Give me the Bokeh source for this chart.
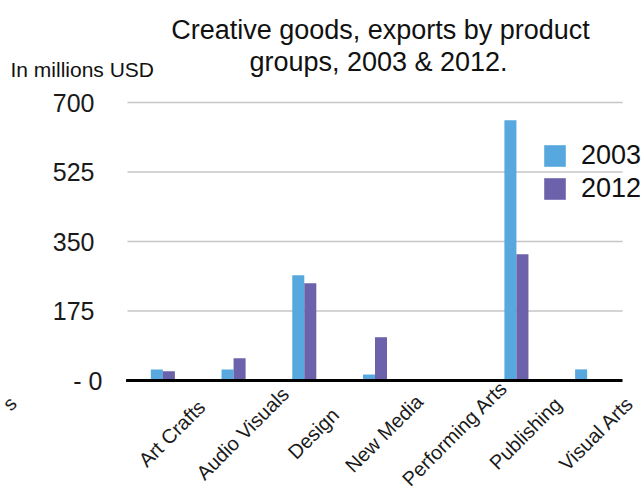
import math
from bokeh.plotting import figure
from bokeh.models import ColumnDataSource, Range1d, Label
from bokeh.core.properties import value
from bokeh.transform import dodge
from bokeh.embed import file_html
from bokeh.resources import INLINE

categories = ["Art Crafts", "Audio Visuals", "Design", "New Media",
              "Performing Arts", "Publishing", "Visual Arts"]
exports_2003 = [28, 28, 265, 15, 0, 655, 28]
exports_2012 = [23, 56, 245, 109, 0, 318, 0]
y_ticks = [0, 175, 350, 525, 700]
y_tick_labels = ["- 0", "175", "350", "525", "700"]
title_lines = ["Creative goods, exports by product", "groups, 2003 & 2012."]
unit_label = "In millions USD"

FONT = "Liberation Sans"
C2003 = "#56a8de"
C2012 = "#6b62ab"
TXT = "#1a1a1a"

W, H = 643, 504
PLOT_LEFT, PLOT_RIGHT = 127, 622      # pixel extent of the category area
PLOT_TOP, PLOT_BASE = 102, 380        # pixel rows of y=700 and y=0
n = len(categories)
cat_px = (PLOT_RIGHT - PLOT_LEFT) / n
y_px = (PLOT_BASE - PLOT_TOP) / y_ticks[-1]

x_range = Range1d(-PLOT_LEFT / cat_px, (W - PLOT_LEFT) / cat_px)
y_range = Range1d(-(H - PLOT_BASE) / y_px, y_ticks[-1] + PLOT_TOP / y_px)

pos = [i + 0.5 for i in range(n)]
src = ColumnDataSource(dict(pos=pos, cat=categories, y2003=exports_2003, y2012=exports_2012))

p = figure(x_range=x_range, y_range=y_range, width=W, height=H,
           output_backend="svg", toolbar_location=None,
           x_axis_type=None, y_axis_type=None, min_border=0)
p.outline_line_color = None
p.background_fill_color = "white"
p.border_fill_color = "white"
p.grid.visible = False

# horizontal grid lines
grid_src = ColumnDataSource(dict(y=y_ticks[1:]))
p.segment(x0=0, x1=n, y0="y", y1="y", source=grid_src,
          line_color="#c6c6c6", line_width=1.5)

r1 = p.vbar(x=dodge("pos", -0.085), top="y2003", width=0.17,
            source=src, fill_color=C2003, line_color=None, legend_label="2003")
r2 = p.vbar(x=dodge("pos", 0.085), top="y2012", width=0.17,
            source=src, fill_color=C2012, line_color=None, legend_label="2012")

# baseline
p.segment(x0=-0.02, x1=n, y0=0, y1=0, line_color="black", line_width=3)

# y tick labels (accounting style: zero shown as "- 0", sits a little further right)
tick_src = ColumnDataSource(dict(y=y_ticks, t=y_tick_labels,
                                 off=[-25 if v == 0 else -33 for v in y_ticks]))
p.text(x=0, y="y", text="t", source=tick_src, x_offset="off",
       text_align="right", text_baseline="middle",
       text_font=value(FONT), text_font_size=value("25px"), text_color=TXT)

# category labels, rotated, centred under each category
p.text(x="pos", y=0, text="cat", source=src, angle=math.pi / 4,
       x_offset=9, y_offset=53, text_align="center", text_baseline="middle",
       text_font=value(FONT), text_font_size=value("20px"), text_color=TXT)

# label fragment at left edge
p.add_layout(Label(x=9, y=H - 403, x_units="screen", y_units="screen", text="s",
                   angle=math.pi / 4, text_align="center", text_baseline="middle",
                   text_font=FONT, text_font_size="20px", text_color=TXT))

# title and unit label
p.add_layout(Label(x=380, y=H - 29, x_units="screen", y_units="screen",
                   text=title_lines[0], text_align="center", text_baseline="middle",
                   text_font=FONT, text_font_size="27px", text_color="#111111"))
p.add_layout(Label(x=378, y=H - 61, x_units="screen", y_units="screen",
                   text=title_lines[1], text_align="center", text_baseline="middle",
                   text_font=FONT, text_font_size="27px", text_color="#111111"))
p.add_layout(Label(x=10, y=H - 69, x_units="screen", y_units="screen",
                   text=unit_label, text_align="left", text_baseline="middle",
                   text_font=FONT, text_font_size="21px", text_color="#111111"))

lg = p.legend[0]
lg.location = (541, H - 204)
lg.border_line_color = None
lg.background_fill_alpha = 0
lg.padding = 0
lg.margin = 0
lg.spacing = 2
lg.glyph_width = 27
lg.glyph_height = 27
lg.label_standoff = 13
lg.label_text_font = FONT
lg.label_text_font_size = "27px"
lg.label_text_color = "#111111"

open("out.html", "w").write(file_html(p, INLINE))
